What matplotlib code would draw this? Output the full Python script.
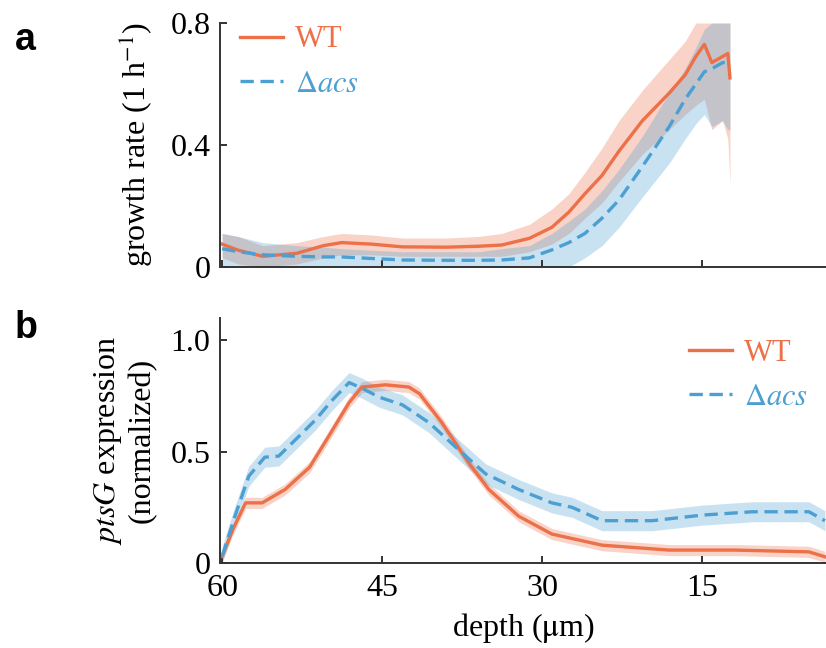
import numpy as np
import matplotlib
matplotlib.use("Agg")
import matplotlib.pyplot as plt

#-------data-------
# panel a: growth rate
depth_a = [60.0, 58.5, 56.2, 53.0, 50.5, 48.8, 46.0, 43.1, 39.0, 36.0, 33.8, 31.2, 29.1,
           27.5, 26.0, 24.4, 22.8, 20.6, 18.1, 16.6, 15.6, 14.8, 14.1, 13.1, 12.6, 12.4]
wt_a = [0.075, 0.055, 0.035, 0.045, 0.07, 0.08, 0.075, 0.066, 0.065, 0.068, 0.072, 0.094, 0.13,
        0.18, 0.24, 0.30, 0.38, 0.48, 0.57, 0.63, 0.69, 0.73, 0.67, 0.69, 0.70, 0.62]
wt_a_lo = [0.03, 0.01, 0.0, 0.01, 0.03, 0.04, 0.04, 0.035, 0.035, 0.035, 0.035, 0.05, 0.075,
           0.11, 0.16, 0.21, 0.28, 0.37, 0.45, 0.50, 0.53, 0.55, 0.45, 0.48, 0.42, 0.27]
wt_a_hi = [0.11, 0.10, 0.07, 0.08, 0.10, 0.11, 0.105, 0.095, 0.095, 0.10, 0.11, 0.14, 0.19,
           0.24, 0.31, 0.39, 0.48, 0.58, 0.68, 0.74, 0.80, 0.80, 0.80, 0.80, 0.80, 0.80]
ko_a = [0.06, 0.05, 0.04, 0.035, 0.033, 0.033, 0.028, 0.023, 0.022, 0.022, 0.023, 0.03, 0.056,
        0.08, 0.11, 0.16, 0.22, 0.33, 0.46, 0.55, 0.60, 0.64, 0.65, 0.67, 0.67, 0.67]
ko_a_lo = [0.0, 0.0, 0.0, 0.0, 0.0, 0.0, 0.0, 0.0, 0.0, 0.0, 0.0, 0.0, 0.0,
           0.0, 0.03, 0.07, 0.13, 0.23, 0.34, 0.42, 0.47, 0.50, 0.46, 0.48, 0.45, 0.45]
ko_a_hi = [0.11, 0.10, 0.08, 0.07, 0.065, 0.06, 0.055, 0.05, 0.05, 0.05, 0.06, 0.07, 0.11,
           0.15, 0.19, 0.25, 0.32, 0.43, 0.57, 0.65, 0.72, 0.78, 0.80, 0.80, 0.80, 0.80]

# panel b: ptsG expression
depth_wt_b = [60.0, 59.0, 57.8, 56.25, 54.1, 51.8, 50.0, 48.1, 46.9, 44.7, 42.5, 41.5, 39.4,
              36.9, 35.0, 32.2, 29.1, 24.4, 18.1, 11.9, 5.0, 3.5]
wt_b = [0.03, 0.15, 0.27, 0.27, 0.33, 0.43, 0.57, 0.72, 0.79, 0.80, 0.79, 0.76, 0.63,
        0.45, 0.33, 0.21, 0.13, 0.08, 0.058, 0.058, 0.05, 0.028]
depth_ko_b = [60.0, 58.8, 57.5, 56.0, 54.7, 53.2, 51.3, 49.7, 48.1, 46.9, 45.3, 43.1, 40.6,
              38.1, 35.3, 32.2, 29.1, 27.2, 24.4, 19.7, 15.0, 10.3, 5.0, 3.5]
ko_b = [0.03, 0.21, 0.39, 0.475, 0.48, 0.55, 0.64, 0.73, 0.81, 0.785, 0.745, 0.71, 0.63,
        0.52, 0.40, 0.33, 0.27, 0.25, 0.19, 0.19, 0.215, 0.23, 0.23, 0.19]
wt_b_err = 0.025
ko_b_err = 0.045

#-------style-------
plt.rcParams["font.family"] = ["Liberation Serif", "DejaVu Serif"]
plt.rcParams["mathtext.fontset"] = "stix"
orange = "#EC7048"
blue = "#4C9FD2"
spine_col = "#333333"
tick_fs = 23
lab_fs = 23
leg_fs = 22

fig = plt.figure(figsize=(8.26, 6.48), dpi=100)
ax_a = fig.add_axes([220/826, 1-267/648, 1-220/826, 244/648])
ax_b = fig.add_axes([220/826, 1-563/648, 1-220/826, 245/648])

def style(ax):
    for s in ["top", "right"]:
        ax.spines[s].set_visible(False)
    for s in ["left", "bottom"]:
        ax.spines[s].set_color(spine_col)
        ax.spines[s].set_linewidth(1.4)
    ax.tick_params(direction="in", length=5, width=1.4, color=spine_col,
                   labelsize=tick_fs)
    ax.tick_params(axis="y", pad=7)
    ax.tick_params(axis="x", pad=8)
    ax.set_xlim(60.2, 3.4)
    ax.set_xticks([60, 45, 30, 15])

def color_legend(leg):
    for t, c in zip(leg.get_texts(), [orange, blue]):
        t.set_color(c)

#-------panel a-------
ax_a.fill_between(depth_a, wt_a_lo, wt_a_hi, color=orange, alpha=0.3, lw=0)
ax_a.fill_between(depth_a, ko_a_lo, ko_a_hi, color=blue, alpha=0.3, lw=0)
ax_a.plot(depth_a, wt_a, color=orange, lw=2.4, label="WT")
ax_a.plot(depth_a, ko_a, color=blue, lw=2.4, ls=(0, (4, 2)), label=r"$\Delta acs$")
style(ax_a)
ax_a.set_ylim(0, 0.8)
ax_a.set_yticks([0, 0.4, 0.8])
ax_a.set_yticklabels(["0", "0.4", "0.8"])
ax_a.set_xticklabels([])
ax_a.set_ylabel(r"growth rate (1 h$^{-1}$)", fontsize=lab_fs, labelpad=11)
leg = ax_a.legend(loc="upper left", bbox_to_anchor=(0.033, 0.99), frameon=False,
                  fontsize=leg_fs, handlelength=1.4, handletextpad=0.4, labelspacing=0.5,
                  borderpad=0, borderaxespad=0)
color_legend(leg)

#-------panel b-------
wt_b_arr = np.array(wt_b)
ko_b_arr = np.array(ko_b)
ax_b.fill_between(depth_wt_b, np.clip(wt_b_arr - wt_b_err, 0, None), wt_b_arr + wt_b_err,
                  color=orange, alpha=0.3, lw=0)
ax_b.fill_between(depth_ko_b, np.clip(ko_b_arr - ko_b_err, 0, None), ko_b_arr + ko_b_err,
                  color=blue, alpha=0.3, lw=0)
ax_b.plot(depth_wt_b, wt_b, color=orange, lw=2.4, label="WT")
ax_b.plot(depth_ko_b, ko_b, color=blue, lw=2.4, ls=(0, (4, 2)), label=r"$\Delta acs$")
style(ax_b)
ax_b.set_ylim(0, 1.1)
ax_b.set_yticks([0, 0.5, 1.0])
ax_b.set_yticklabels(["0", "0.5", "1.0"])
ax_b.set_xticklabels(["60", "45", "30", "15"])
ax_b.set_ylabel("$ptsG$ expression\n(normalized)", fontsize=lab_fs, labelpad=10,
                linespacing=1.15)
ax_b.set_xlabel(r"depth ($\mathrm{\mu}$m)", fontsize=lab_fs, labelpad=6)
leg = ax_b.legend(loc="upper right", bbox_to_anchor=(0.97, 0.915), frameon=False,
                  fontsize=leg_fs, handlelength=1.4, handletextpad=0.4, labelspacing=0.5,
                  borderpad=0, borderaxespad=0)
color_legend(leg)

#-------panel letters-------
fig.text(15/826, 1-50/648, "a", fontsize=27, fontweight="bold", family="Liberation Sans")
fig.text(15/826, 1-338/648, "b", fontsize=27, fontweight="bold", family="Liberation Sans")

fig.savefig("out.png", dpi=100)
